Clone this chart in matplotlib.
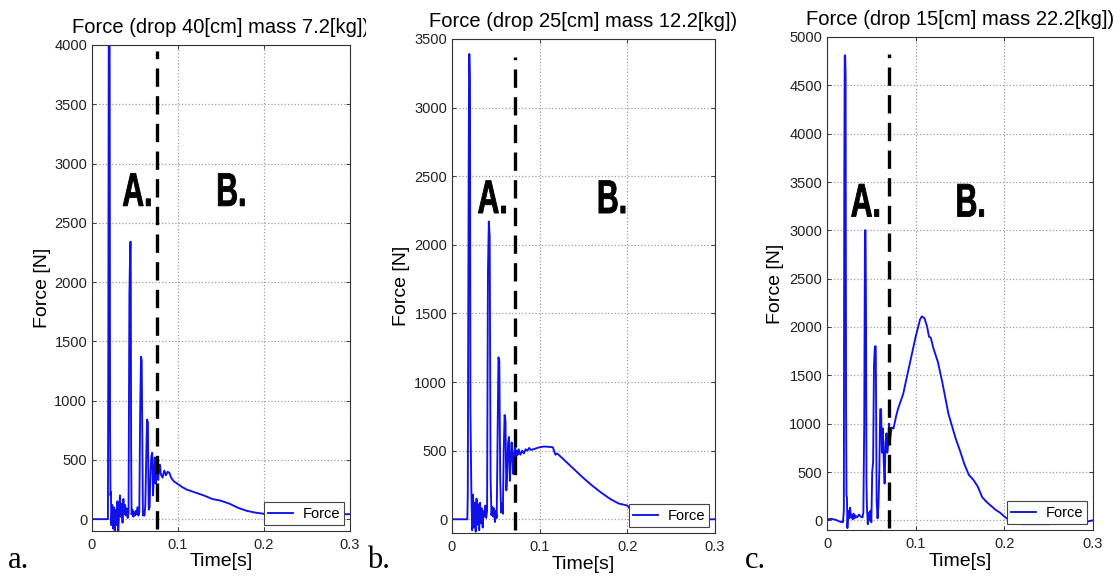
import numpy as np
import matplotlib.pyplot as plt
from matplotlib.textpath import TextPath
from matplotlib.patches import PathPatch
from matplotlib.font_manager import FontProperties
from matplotlib.transforms import Affine2D, ScaledTranslation, Bbox, TransformedBbox

plt.rcParams['font.family'] = ['Liberation Sans', 'DejaVu Sans']

# --- datos ---
titles = ['Force (drop 40[cm] mass 7.2[kg])',
          'Force (drop 25[cm] mass 12.2[kg])',
          'Force (drop 15[cm] mass 22.2[kg])']
panel_letters = ['a.', 'b.', 'c.']
y_max = [4000, 3500, 5000]

# panel a: drop 40 cm
t_a = [0, 0.0185, 0.0190, 0.0195, 0.0205, 0.0210, 0.0215, 0.0220, 0.0225, 0.0235,
       0.0245, 0.0255, 0.0265, 0.0275, 0.0285, 0.0295, 0.0305, 0.0315, 0.0325, 0.0335,
       0.0345, 0.0355, 0.0365, 0.0375, 0.0385, 0.0395, 0.0405, 0.0415, 0.0425, 0.0435,
       0.0445, 0.0450, 0.0455, 0.0460, 0.0470, 0.0480, 0.0490, 0.0500, 0.0510, 0.0520,
       0.0530, 0.0540, 0.0550, 0.0560, 0.0570, 0.0578, 0.0585, 0.0592, 0.0600, 0.0610,
       0.0620, 0.0630, 0.0640, 0.0650, 0.0655, 0.0660, 0.0670, 0.0680, 0.0690, 0.0700,
       0.0710, 0.0720, 0.0730, 0.0740, 0.0750, 0.0760, 0.0770, 0.0780, 0.0790, 0.0800,
       0.0820, 0.0840, 0.0860, 0.0880, 0.0900, 0.0920, 0.0950, 0.1000, 0.1050, 0.1100,
       0.1200, 0.1300, 0.1400, 0.1500, 0.1600, 0.1700, 0.1800, 0.1900, 0.2000, 0.2500,
       0.3000]
f_a = [0, 0, 1600, 4200, 4200, 750, 200, 230, -50, 120,
       -80, 100, -120, 80, -50, 150, -130, 60, 200, 20,
       130, -30, 170, 40, 120, 30, 90, 10, 50, 1900,
       2340, 2340, 600, 40, 80, 20, 60, 30, 70, 40,
       100, 30, 60, 900, 1370, 1340, 700, 30, 60, 30,
       120, 500, 840, 820, 350, 80, 100, 400, 530, 560,
       200, 380, 520, 300, 420, 460, 330, 450, 460, 380,
       350, 410, 370, 400, 390, 350, 320, 295, 270, 250,
       225, 200, 170, 155, 130, 95, 70, 55, 45, 42,
       42]

# panel b: drop 25 cm
t_b = [0, 0.0175, 0.0180, 0.0190, 0.0195, 0.0200, 0.0205, 0.0210, 0.0220, 0.0230,
       0.0240, 0.0250, 0.0260, 0.0270, 0.0280, 0.0290, 0.0300, 0.0310, 0.0320, 0.0330,
       0.0340, 0.0350, 0.0360, 0.0370, 0.0380, 0.0390, 0.0400, 0.0410, 0.0420, 0.0430,
       0.0440, 0.0450, 0.0460, 0.0470, 0.0480, 0.0490, 0.0500, 0.0510, 0.0520, 0.0530,
       0.0540, 0.0550, 0.0560, 0.0570, 0.0580, 0.0590, 0.0600, 0.0610, 0.0620, 0.0630,
       0.0640, 0.0650, 0.0660, 0.0670, 0.0680, 0.0690, 0.0700, 0.0710, 0.0720, 0.0730,
       0.0740, 0.0750, 0.0760, 0.0780, 0.0800, 0.0820, 0.0840, 0.0860, 0.0880, 0.0900,
       0.0950, 0.1000, 0.1050, 0.1100, 0.1150, 0.1180, 0.1200, 0.1250, 0.1300, 0.1400,
       0.1500, 0.1600, 0.1700, 0.1800, 0.1900, 0.2000, 0.2050, 0.2100, 0.2200, 0.3000]
f_b = [0, 0, 175, 2500, 3390, 3390, 3220, 800, 240, -80,
       180, -60, 120, -90, 150, -40, 110, -80, 120, -30,
       80, -60, 60, 20, 100, 10, 60, 1800, 2170, 2060,
       300, 30, 90, 20, 80, -20, 60, 10, 600, 1180,
       1150, 300, 50, 120, 40, 500, 760, 720, 210, 350,
       560, 600, 280, 420, 560, 450, 330, 490, 540, 430,
       500, 470, 510, 470, 500, 480, 510, 500, 520, 505,
       515, 525, 530, 528, 525, 470, 480, 450, 420, 360,
       300, 245, 195, 150, 115, 100, 60, 10, 0, 0]

# panel c: drop 15 cm
t_c = [0, 0.005, 0.010, 0.015, 0.018, 0.0190, 0.0195, 0.0200, 0.0205, 0.0210,
       0.0215, 0.0220, 0.0225, 0.0230, 0.0240, 0.0250, 0.0260, 0.0270, 0.0280, 0.0290,
       0.0300, 0.0310, 0.0320, 0.0340, 0.0360, 0.0380, 0.0400, 0.0410, 0.0420, 0.0428,
       0.0435, 0.0440, 0.0445, 0.0450, 0.0460, 0.0470, 0.0480, 0.0490, 0.0500, 0.0510,
       0.0520, 0.0530, 0.0540, 0.0550, 0.0555, 0.0560, 0.0570, 0.0580, 0.0590, 0.0600,
       0.0610, 0.0620, 0.0630, 0.0640, 0.0650, 0.0660, 0.0670, 0.0680, 0.0690, 0.0700,
       0.0710, 0.0720, 0.0730, 0.0750, 0.0780, 0.0800, 0.0860, 0.0900, 0.0950, 0.1000,
       0.1050, 0.1070, 0.1100, 0.1130, 0.1150, 0.1170, 0.1200, 0.1250, 0.1300, 0.1370,
       0.1450, 0.1500, 0.1550, 0.1600, 0.1650, 0.1700, 0.1750, 0.1800, 0.1850, 0.1900,
       0.1950, 0.2000, 0.2100, 0.2200, 0.2500, 0.2700, 0.2900, 0.3000]
f_c = [10, 15, 5, -15, -20, 100, 3500, 4810, 4810, 4600,
       1200, 250, 240, -80, 100, 20, 130, 30, 60, 10,
       70, 20, 50, 30, 60, 40, 30, 80, 1000, 3000,
       3000, 2100, 400, 150, -40, 80, 0, 100, -20, 500,
       600, 1600, 1800, 1800, 1000, 200, 20, 150, 500, 1150,
       1150, 700, 950, 600, 380, 800, 900, 700, 780, 1000,
       820, 900, 960, 950, 1080, 1150, 1310, 1480, 1690, 1900,
       2080, 2110, 2090, 2000, 1900, 1890, 1780, 1640, 1430, 1100,
       850, 720, 580, 470, 420, 350, 240, 190, 150, 110,
       80, 40, -30, -40, -40, -30, -20, 0]

times = [t_a, t_b, t_c]
forces = [f_a, f_b, f_c]

# límite entre fase A y fase B (línea discontinua)
split_t = [0.0752, 0.0719, 0.0700]
split_top = [3950, 3370, 4820]

# --- figura ---
DPI = 100
fig = plt.figure(figsize=(11.2, 5.82), dpi=DPI)
W, H = 1120, 582
boxes = [(92, 45, 350, 531), (452, 39, 715, 533), (827, 37, 1093, 530)]
label_A_pos = [(0.052, 2780), (0.0456, 2350), (0.043, 3310)]
label_B_pos = [(0.162, 2780), (0.1825, 2350), (0.162, 3310)]
letter_x = [8, 367, 745]

bold = FontProperties(family='Liberation Sans', weight='bold')


def narrow_label(ax, x, y, s, size=34, squeeze=0.64):
    # texto estrecho tipo "DIN condensed": se comprime en horizontal
    p = TextPath((0, 0), s, size=size, prop=bold)
    ext = p.get_extents()
    k = DPI / 72.0
    tr = (Affine2D().translate(-(ext.x0 + ext.x1) / 2, -(ext.y0 + ext.y1) / 2)
          .scale(squeeze * k, k) + ScaledTranslation(x, y, ax.transData))
    ax.add_patch(PathPatch(p, transform=tr, facecolor='k', edgecolor='k',
                           linewidth=0.6, clip_on=False))


for i in range(3):
    l, t, r, b = boxes[i]
    ax = fig.add_axes([l / W, (H - b) / H, (r - l) / W, (b - t) / H])
    ax.plot(times[i], forces[i], color='#1010e8', linewidth=1.35, label='Force')
    ax.vlines(split_t[i], -80, split_top[i], colors='k', linewidth=2.4,
              linestyles=(0, (5.5, 2.8)))
    ax.set_xlim(0, 0.3)
    ax.set_ylim(-100, y_max[i])
    ax.set_xticks([0, 0.1, 0.2, 0.3])
    ax.set_xticklabels(['0', '0.1', '0.2', '0.3'])
    ax.set_yticks(np.arange(0, y_max[i] + 1, 500))
    ax.grid(True, linestyle=':', color='#a0a0a0', linewidth=0.9)
    ax.tick_params(direction='in', top=True, right=True, length=3,
                   labelsize=10.5, colors='#222222', width=0.6)
    ax.tick_params(axis='x', pad=5)
    ax.tick_params(axis='y', pad=3.5)
    for sp in ax.spines.values():
        sp.set_color('#333333')
        sp.set_linewidth(0.8)
    ttl = ax.set_title(titles[i], fontsize=14.5, pad=8.5)
    if i == 0:
        # en la figura original el título queda cortado por el panel b
        ttl.set_clip_box(TransformedBbox(Bbox([[0, 0], [366 / W, 1]]), fig.transFigure))
        ttl.set_clip_on(True)
    ax.set_xlabel('Time[s]', fontsize=14)
    ax.set_ylabel('Force [N]', fontsize=14)
    ax.xaxis.set_label_coords(0.5, -0.046)
    ax.yaxis.set_label_coords(-0.16, 0.5)
    leg = ax.legend(loc='lower right', fontsize=10.5, fancybox=False,
                    edgecolor='#444444', framealpha=1, borderpad=0.3,
                    borderaxespad=0.4, handlelength=1.7, handletextpad=0.65)
    leg.get_frame().set_linewidth(0.8)
    narrow_label(ax, *label_A_pos[i], 'A.')
    narrow_label(ax, *label_B_pos[i], 'B.')
    fig.text(letter_x[i] / W, (H - 568) / H, panel_letters[i], fontsize=22,
             family=['Liberation Serif', 'DejaVu Serif'], ha='left', va='baseline')

fig.savefig('out.png', dpi=DPI)
